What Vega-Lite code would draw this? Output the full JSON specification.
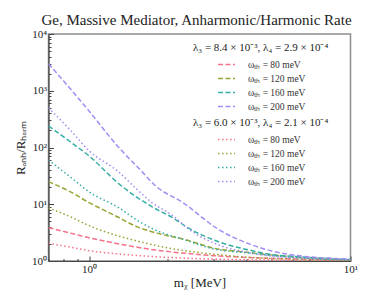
{
  "$schema": "https://vega.github.io/schema/vega-lite/v6.json",
  "width": 302,
  "height": 227,
  "autosize": "none",
  "padding": {"left": 48.5, "top": 34, "right": 39.5, "bottom": 32},
  "background": "white",
  "title": {"text": "Ge, Massive Mediator, Anharmonic/Harmonic Rate", "font": "Liberation Serif", "fontSize": 15, "fontWeight": "normal", "color": "#222", "offset": 0, "dx": -3},
  "config": {
    "view": {"stroke": "#8c8c8c", "strokeWidth": 1.5},
    "axis": {"grid": false, "labelFont": "Liberation Serif", "labelFontSize": 11, "labelColor": "#222", "titleFont": "Liberation Serif", "titleFontWeight": "normal", "titleFontSize": 13, "titleColor": "#222", "domainColor": "#444", "domainWidth": 1.2, "tickColor": "#444", "tickWidth": 1}
  },
  "datasets": {
    "a": [
      {"x": 0.7, "y": 3.86, "w": "80"}, {"x": 0.85, "y": 3.1, "w": "80"}, {"x": 1, "y": 2.57, "w": "80"}, {"x": 1.3, "y": 2.0, "w": "80"}, {"x": 1.8, "y": 1.56, "w": "80"}, {"x": 2.4, "y": 1.35, "w": "80"}, {"x": 3, "y": 1.24, "w": "80"}, {"x": 4.5, "y": 1.13, "w": "80"}, {"x": 6.5, "y": 1.08, "w": "80"}, {"x": 10, "y": 1.045, "w": "80"},
      {"x": 0.7, "y": 25, "w": "120"}, {"x": 0.85, "y": 16.5, "w": "120"}, {"x": 1, "y": 10.7, "w": "120"}, {"x": 1.25, "y": 6.4, "w": "120"}, {"x": 1.53, "y": 4.0, "w": "120"}, {"x": 1.75, "y": 3.25, "w": "120"}, {"x": 2.36, "y": 2.35, "w": "120"}, {"x": 2.97, "y": 1.7, "w": "120"}, {"x": 4.1, "y": 1.41, "w": "120"}, {"x": 5, "y": 1.28, "w": "120"}, {"x": 6.5, "y": 1.15, "w": "120"}, {"x": 10, "y": 1.05, "w": "120"},
      {"x": 0.7, "y": 240, "w": "160"}, {"x": 0.85, "y": 125, "w": "160"}, {"x": 1, "y": 71, "w": "160"}, {"x": 1.3, "y": 23, "w": "160"}, {"x": 1.75, "y": 8.9, "w": "160"}, {"x": 2.1, "y": 5.7, "w": "160"}, {"x": 2.36, "y": 4.0, "w": "160"}, {"x": 3.15, "y": 2.16, "w": "160"}, {"x": 4.1, "y": 1.56, "w": "160"}, {"x": 5, "y": 1.3, "w": "160"}, {"x": 6.5, "y": 1.18, "w": "160"}, {"x": 10, "y": 1.06, "w": "160"},
      {"x": 0.7, "y": 3000, "w": "200"}, {"x": 0.85, "y": 1070, "w": "200"}, {"x": 1, "y": 440, "w": "200"}, {"x": 1.3, "y": 100, "w": "200"}, {"x": 1.55, "y": 43, "w": "200"}, {"x": 1.8, "y": 21, "w": "200"}, {"x": 2.3, "y": 10.5, "w": "200"}, {"x": 3.1, "y": 3.7, "w": "200"}, {"x": 4.1, "y": 2.0, "w": "200"}, {"x": 5, "y": 1.5, "w": "200"}, {"x": 6.5, "y": 1.22, "w": "200"}, {"x": 8, "y": 1.13, "w": "200"}, {"x": 10, "y": 1.08, "w": "200"}
    ],
    "b": [
      {"x": 0.7, "y": 2.05, "w": "80"}, {"x": 0.85, "y": 1.75, "w": "80"}, {"x": 1, "y": 1.52, "w": "80"}, {"x": 1.3, "y": 1.33, "w": "80"}, {"x": 1.8, "y": 1.19, "w": "80"}, {"x": 3, "y": 1.08, "w": "80"}, {"x": 4.5, "y": 1.04, "w": "80"}, {"x": 10, "y": 1.02, "w": "80"},
      {"x": 0.7, "y": 8.6, "w": "120"}, {"x": 0.85, "y": 6.0, "w": "120"}, {"x": 1, "y": 4.2, "w": "120"}, {"x": 1.25, "y": 2.9, "w": "120"}, {"x": 1.5, "y": 2.3, "w": "120"}, {"x": 2, "y": 1.7, "w": "120"}, {"x": 3, "y": 1.32, "w": "120"}, {"x": 4.5, "y": 1.13, "w": "120"}, {"x": 6.5, "y": 1.07, "w": "120"}, {"x": 10, "y": 1.03, "w": "120"},
      {"x": 0.7, "y": 60, "w": "160"}, {"x": 0.85, "y": 30, "w": "160"}, {"x": 1, "y": 16.6, "w": "160"}, {"x": 1.31, "y": 8.5, "w": "160"}, {"x": 1.53, "y": 5.2, "w": "160"}, {"x": 1.75, "y": 3.7, "w": "160"}, {"x": 2.36, "y": 2.3, "w": "160"}, {"x": 2.97, "y": 1.65, "w": "160"}, {"x": 4.1, "y": 1.38, "w": "160"}, {"x": 5, "y": 1.25, "w": "160"}, {"x": 6.5, "y": 1.13, "w": "160"}, {"x": 10, "y": 1.04, "w": "160"},
      {"x": 0.7, "y": 500, "w": "200"}, {"x": 0.85, "y": 200, "w": "200"}, {"x": 1, "y": 88, "w": "200"}, {"x": 1.3, "y": 37, "w": "200"}, {"x": 1.53, "y": 18, "w": "200"}, {"x": 1.75, "y": 10.5, "w": "200"}, {"x": 2.1, "y": 6.2, "w": "200"}, {"x": 2.36, "y": 3.9, "w": "200"}, {"x": 3.15, "y": 1.9, "w": "200"}, {"x": 4.1, "y": 1.4, "w": "200"}, {"x": 5, "y": 1.22, "w": "200"}, {"x": 6.5, "y": 1.13, "w": "200"}, {"x": 10, "y": 1.05, "w": "200"}
    ]
  },
  "layer": [
    {
      "data": {"name": "a"},
      "mark": {"type": "line", "strokeDash": [5, 2.5], "strokeWidth": 1.5, "interpolate": "monotone", "clip": true},
      "encoding": {
        "x": {"field": "x", "type": "quantitative", "scale": {"type": "log", "domain": [0.7, 10], "nice": false},
          "axis": {"title": "mᵪ [MeV]", "values": [0.7, 0.8, 0.9, 1, 2, 3, 4, 5, 6, 7, 8, 9, 10], "labelExpr": "datum.value == 1 ? '10⁰' : datum.value == 10 ? '10¹' : ''", "tickSize": {"condition": {"test": "datum.value == 1 || datum.value == 10", "value": -5}, "value": -2.5}, "labelPadding": 7, "titlePadding": 2, "labelFlush": false}},
        "y": {"field": "y", "type": "quantitative", "scale": {"type": "log", "domain": [1, 10000], "nice": false},
          "axis": {"title": "Rₐₙₕ/Rₕₐᵣₘ", "values": [1, 2, 3, 4, 5, 6, 7, 8, 9, 10, 20, 30, 40, 50, 60, 70, 80, 90, 100, 200, 300, 400, 500, 600, 700, 800, 900, 1000, 2000, 3000, 4000, 5000, 6000, 7000, 8000, 9000, 10000], "labelExpr": "datum.value == 1 ? '10⁰' : datum.value == 10 ? '10¹' : datum.value == 100 ? '10²' : datum.value == 1000 ? '10³' : datum.value == 10000 ? '10⁴' : ''", "tickSize": {"condition": {"test": "indexof([1, 10, 100, 1000, 10000], datum.value) >= 0", "value": -5}, "value": -2.5}, "labelPadding": 7, "titlePadding": 4, "labelFlush": false}},
        "color": {"field": "w", "type": "nominal", "scale": {"domain": ["80", "120", "160", "200"], "range": ["#f77189", "#97a431", "#36ada4", "#a48cf4"]},
          "legend": {"orient": "none", "legendX": 144.5, "legendY": 8, "padding": 0, "title": "λ₃ = 8.4 × 10⁻³, λ₄ = 2.9 × 10⁻⁴", "titleFont": "Liberation Serif", "titleFontSize": 11, "titleFontWeight": "normal", "titleColor": "#222", "titlePadding": 2, "labelFont": "Liberation Serif", "labelFontSize": 9.5, "labelColor": "#333", "labelExpr": "'ωₜₕ = ' + datum.label + ' meV'", "symbolType": "stroke", "symbolSize": 289, "symbolStrokeWidth": 1.5, "symbolDash": [5, 2.5], "symbolOffset": 24, "labelOffset": 12, "rowPadding": -5}}
      }
    },
    {
      "data": {"name": "b"},
      "mark": {"type": "line", "strokeDash": [1.5, 2.5], "strokeWidth": 1.5, "interpolate": "monotone", "clip": true},
      "encoding": {
        "x": {"field": "x", "type": "quantitative"},
        "y": {"field": "y", "type": "quantitative"},
        "color": {"field": "w", "type": "nominal", "scale": {"domain": ["80", "120", "160", "200"], "range": ["#f77189", "#97a431", "#36ada4", "#a48cf4"]},
          "legend": {"orient": "none", "legendX": 144.5, "legendY": 83, "padding": 0, "title": "λ₃ = 6.0 × 10⁻³, λ₄ = 2.1 × 10⁻⁴", "titleFont": "Liberation Serif", "titleFontSize": 11, "titleFontWeight": "normal", "titleColor": "#222", "titlePadding": 2, "labelFont": "Liberation Serif", "labelFontSize": 9.5, "labelColor": "#333", "labelExpr": "'ωₜₕ = ' + datum.label + ' meV'", "symbolType": "stroke", "symbolSize": 289, "symbolStrokeWidth": 1.5, "symbolDash": [1.5, 2.5], "symbolOffset": 24, "labelOffset": 12, "rowPadding": -5}}
      }
    }
  ],
  "resolve": {"scale": {"color": "independent"}}
}
